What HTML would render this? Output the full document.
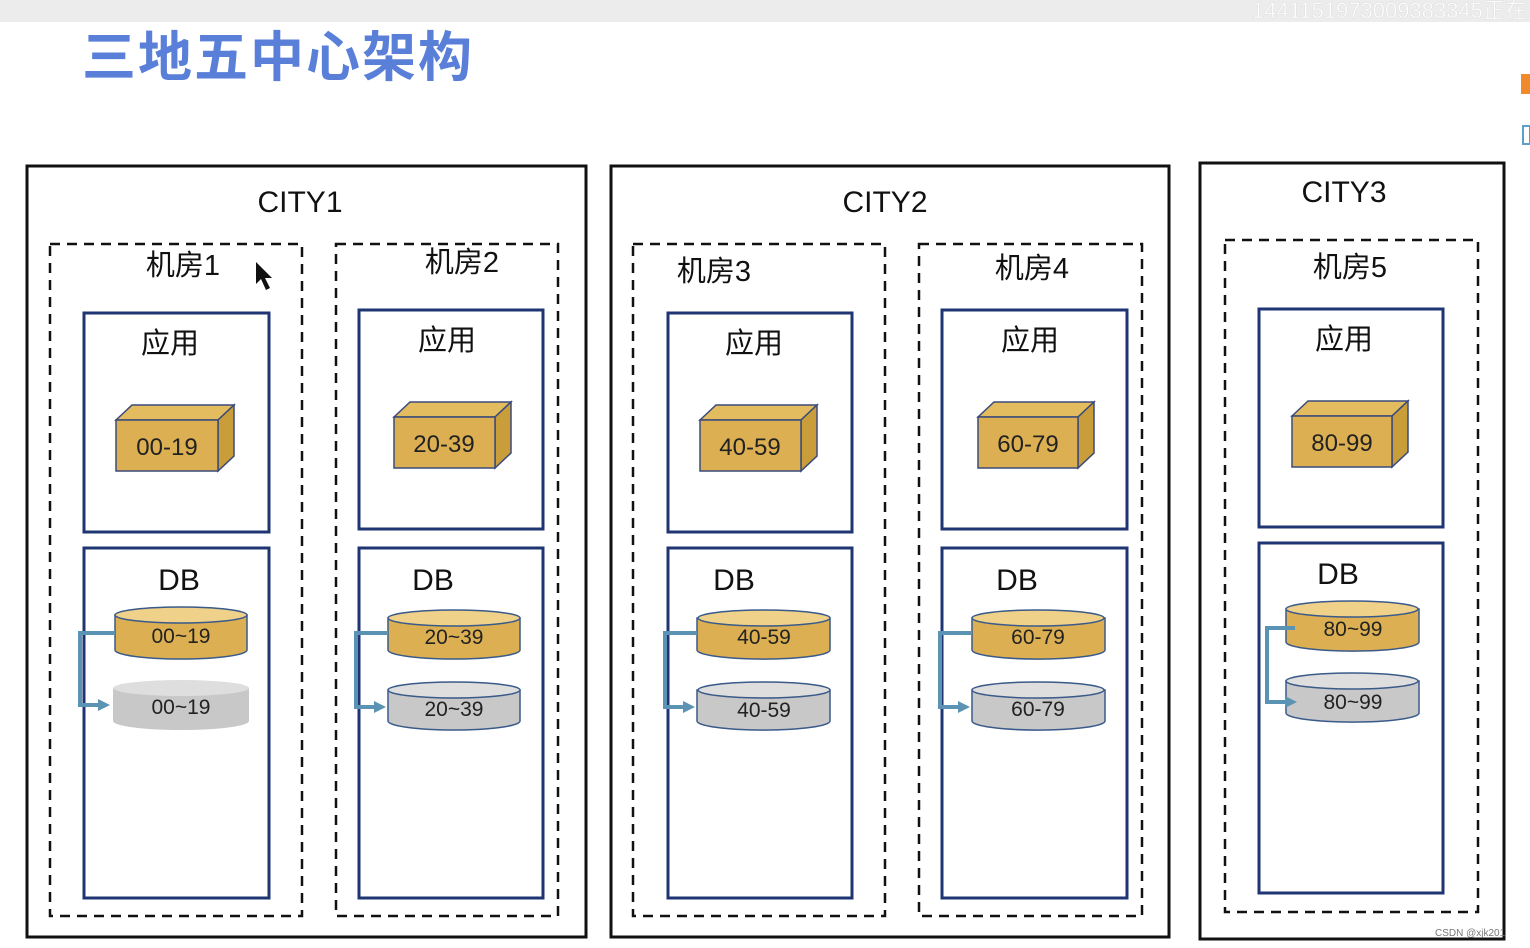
<!DOCTYPE html>
<html><head><meta charset="utf-8"><style>
html,body{margin:0;padding:0;background:#fff;width:1530px;height:948px;overflow:hidden}
svg{display:block}
text{font-family:"Liberation Sans","Noto Sans CJK SC",sans-serif}
</style></head><body>
<svg width="1530" height="948" viewBox="0 0 1530 948" xmlns="http://www.w3.org/2000/svg">
<defs>
<marker id="ah" markerWidth="12" markerHeight="12" refX="6" refY="6" orient="auto" markerUnits="userSpaceOnUse"><path d="M0,0 L12,6 L0,12 Z" fill="#5b93b5"/></marker>
</defs>
<rect x="0" y="0" width="1530" height="22" fill="#ececec"/>
<text x="1252" y="18" font-size="22" fill="#fff" stroke="#ddd" stroke-width="0.5">1441151973009383345正在</text>
<text x="82" y="76" font-size="54" font-weight="bold" fill="#5a7fd8" letter-spacing="2" font-family="'Noto Sans CJK SC',sans-serif">三地五中心架构</text>
<rect x="1521" y="74" width="9" height="20" fill="#f08a2c"/>
<rect x="1523" y="126" width="7" height="18" fill="none" stroke="#5aa0c8" stroke-width="2"/>

<g fill="none" stroke="#111" stroke-width="3">
<rect x="27" y="166" width="559" height="771"/>
<rect x="611" y="166" width="558" height="771"/>
<rect x="1200" y="163" width="304" height="776"/>
</g>
<g font-size="30" fill="#111" text-anchor="middle">
<text x="300" y="212">CITY1</text>
<text x="885" y="212">CITY2</text>
<text x="1344" y="202">CITY3</text>
</g>
<g fill="none" stroke="#111" stroke-width="2.5" stroke-dasharray="10,7">
<rect x="50" y="244" width="252" height="672"/>
<rect x="336" y="244" width="222" height="672"/>
<rect x="633" y="244" width="252" height="672"/>
<rect x="919" y="244" width="223" height="672"/>
<rect x="1225" y="240" width="253" height="672"/>
</g>
<g font-size="29" fill="#111" text-anchor="middle">
<text x="183" y="275">机房1</text>
<text x="462" y="272">机房2</text>
<text x="714" y="281">机房3</text>
<text x="1032" y="278">机房4</text>
<text x="1350" y="277">机房5</text>
</g>
<path d="M256,262 L256,284 L261,279 L266,290 L270,288 L265,278 L272,278 Z" fill="#111"/>

<g transform="translate(84,313)">
<rect x="0" y="0" width="185" height="219" fill="none" stroke="#1f3573" stroke-width="3"/>
<rect x="0" y="235" width="185" height="350" fill="none" stroke="#1f3573" stroke-width="3"/>
<text x="86" y="40" font-size="29" text-anchor="middle" fill="#111">应用</text>
<text x="95" y="277" font-size="30" text-anchor="middle" fill="#111">DB</text>
<polygon points="32,107 48,92 150,92 134,107" fill="#e2bc5e" stroke="#3a4a7a" stroke-width="1.5"/>
<polygon points="134,107 150,92 150,143 134,158" fill="#c99e3a" stroke="#3a4a7a" stroke-width="1.5"/>
<rect x="32" y="107" width="102" height="51" fill="#dcb052" stroke="#3a4a7a" stroke-width="1.5"/>
<text x="83" y="142" font-size="24" text-anchor="middle" fill="#222">00-19</text>
<path d="M31,302 V337 A66,9 0 0 0 163,337 V302 Z" fill="#dcb052" stroke="#3a5a8a" stroke-width="1.5"/>
<ellipse cx="97" cy="302" rx="66" ry="8" fill="#efd18a" stroke="#3a5a8a" stroke-width="1.5"/>
<text x="97" y="330" font-size="21" text-anchor="middle" fill="#222">00~19</text>
<path d="M29,375 V408 A68,9 0 0 0 165,408 V375 Z" fill="#c8c8c8"/>
<ellipse cx="97" cy="375" rx="68" ry="8" fill="#dedede"/>
<text x="97" y="401" font-size="21" text-anchor="middle" fill="#222">00~19</text>
<path d="M31,320 H-4 V392 H20" fill="none" stroke="#5b93b5" stroke-width="4" marker-end="url(#ah)"/>
</g>

<g transform="translate(359,310)">
<rect x="0" y="0" width="184" height="219" fill="none" stroke="#1f3573" stroke-width="3"/>
<rect x="0" y="238" width="184" height="350" fill="none" stroke="#1f3573" stroke-width="3"/>
<text x="88" y="40" font-size="29" text-anchor="middle" fill="#111">应用</text>
<text x="74" y="280" font-size="30" text-anchor="middle" fill="#111">DB</text>
<polygon points="35,107 51,92 152,92 136,107" fill="#e2bc5e" stroke="#3a4a7a" stroke-width="1.5"/>
<polygon points="136,107 152,92 152,143 136,158" fill="#c99e3a" stroke="#3a4a7a" stroke-width="1.5"/>
<rect x="35" y="107" width="101" height="51" fill="#dcb052" stroke="#3a4a7a" stroke-width="1.5"/>
<text x="85" y="142" font-size="24" text-anchor="middle" fill="#222">20-39</text>
<path d="M29,308 V340 A66,9 0 0 0 161,340 V308 Z" fill="#dcb052" stroke="#3a5a8a" stroke-width="1.5"/>
<ellipse cx="95" cy="308" rx="66" ry="8" fill="#efd18a" stroke="#3a5a8a" stroke-width="1.5"/>
<text x="95" y="334" font-size="21" text-anchor="middle" fill="#222">20~39</text>
<path d="M29,380 V411 A66,9 0 0 0 161,411 V380 Z" fill="#c8c8c8" stroke="#3a5a8a" stroke-width="1.5"/>
<ellipse cx="95" cy="380" rx="66" ry="8" fill="#dedede" stroke="#3a5a8a" stroke-width="1.5"/>
<text x="95" y="406" font-size="21" text-anchor="middle" fill="#222">20~39</text>
<path d="M29,323 H-3 V397 H21" fill="none" stroke="#5b93b5" stroke-width="4" marker-end="url(#ah)"/>
</g>

<g transform="translate(668,313)">
<rect x="0" y="0" width="184" height="219" fill="none" stroke="#1f3573" stroke-width="3"/>
<rect x="0" y="235" width="184" height="350" fill="none" stroke="#1f3573" stroke-width="3"/>
<text x="86" y="40" font-size="29" text-anchor="middle" fill="#111">应用</text>
<text x="66" y="277" font-size="30" text-anchor="middle" fill="#111">DB</text>
<polygon points="32,107 48,92 149,92 133,107" fill="#e2bc5e" stroke="#3a4a7a" stroke-width="1.5"/>
<polygon points="133,107 149,92 149,143 133,158" fill="#c99e3a" stroke="#3a4a7a" stroke-width="1.5"/>
<rect x="32" y="107" width="101" height="51" fill="#dcb052" stroke="#3a4a7a" stroke-width="1.5"/>
<text x="82" y="142" font-size="24" text-anchor="middle" fill="#222">40-59</text>
<path d="M29,305 V337 A66,9 0 0 0 162,337 V305 Z" fill="#dcb052" stroke="#3a5a8a" stroke-width="1.5"/>
<ellipse cx="96" cy="305" rx="66" ry="8" fill="#efd18a" stroke="#3a5a8a" stroke-width="1.5"/>
<text x="96" y="331" font-size="21" text-anchor="middle" fill="#222">40-59</text>
<path d="M29,377 V408 A66,9 0 0 0 162,408 V377 Z" fill="#c8c8c8" stroke="#3a5a8a" stroke-width="1.5"/>
<ellipse cx="96" cy="377" rx="66" ry="8" fill="#dedede" stroke="#3a5a8a" stroke-width="1.5"/>
<text x="96" y="404" font-size="21" text-anchor="middle" fill="#222">40-59</text>
<path d="M29,320 H-3 V394 H21" fill="none" stroke="#5b93b5" stroke-width="4" marker-end="url(#ah)"/>
</g>

<g transform="translate(942,310)">
<rect x="0" y="0" width="185" height="219" fill="none" stroke="#1f3573" stroke-width="3"/>
<rect x="0" y="238" width="185" height="350" fill="none" stroke="#1f3573" stroke-width="3"/>
<text x="88" y="40" font-size="29" text-anchor="middle" fill="#111">应用</text>
<text x="75" y="280" font-size="30" text-anchor="middle" fill="#111">DB</text>
<polygon points="36,107 52,92 152,92 136,107" fill="#e2bc5e" stroke="#3a4a7a" stroke-width="1.5"/>
<polygon points="136,107 152,92 152,143 136,158" fill="#c99e3a" stroke="#3a4a7a" stroke-width="1.5"/>
<rect x="36" y="107" width="100" height="51" fill="#dcb052" stroke="#3a4a7a" stroke-width="1.5"/>
<text x="86" y="142" font-size="24" text-anchor="middle" fill="#222">60-79</text>
<path d="M30,308 V340 A66,9 0 0 0 163,340 V308 Z" fill="#dcb052" stroke="#3a5a8a" stroke-width="1.5"/>
<ellipse cx="96" cy="308" rx="66" ry="8" fill="#efd18a" stroke="#3a5a8a" stroke-width="1.5"/>
<text x="96" y="334" font-size="21" text-anchor="middle" fill="#222">60-79</text>
<path d="M30,380 V411 A66,9 0 0 0 163,411 V380 Z" fill="#c8c8c8" stroke="#3a5a8a" stroke-width="1.5"/>
<ellipse cx="96" cy="380" rx="66" ry="8" fill="#dedede" stroke="#3a5a8a" stroke-width="1.5"/>
<text x="96" y="406" font-size="21" text-anchor="middle" fill="#222">60-79</text>
<path d="M30,323 H-2 V397 H22" fill="none" stroke="#5b93b5" stroke-width="4" marker-end="url(#ah)"/>
</g>

<g transform="translate(1259,309)">
<rect x="0" y="0" width="184" height="218" fill="none" stroke="#1f3573" stroke-width="3"/>
<rect x="0" y="234" width="184" height="350" fill="none" stroke="#1f3573" stroke-width="3"/>
<text x="85" y="40" font-size="29" text-anchor="middle" fill="#111">应用</text>
<text x="79" y="275" font-size="30" text-anchor="middle" fill="#111">DB</text>
<polygon points="33,107 49,92 149,92 133,107" fill="#e2bc5e" stroke="#3a4a7a" stroke-width="1.5"/>
<polygon points="133,107 149,92 149,143 133,158" fill="#c99e3a" stroke="#3a4a7a" stroke-width="1.5"/>
<rect x="33" y="107" width="100" height="51" fill="#dcb052" stroke="#3a4a7a" stroke-width="1.5"/>
<text x="83" y="142" font-size="24" text-anchor="middle" fill="#222">80-99</text>
<path d="M27,300 V333 A66,9 0 0 0 160,333 V300 Z" fill="#dcb052" stroke="#3a5a8a" stroke-width="1.5"/>
<ellipse cx="93" cy="300" rx="66" ry="8" fill="#efd18a" stroke="#3a5a8a" stroke-width="1.5"/>
<text x="94" y="327" font-size="21" text-anchor="middle" fill="#222">80~99</text>
<path d="M27,372 V404 A66,9 0 0 0 160,404 V372 Z" fill="#c8c8c8" stroke="#3a5a8a" stroke-width="1.5"/>
<ellipse cx="93" cy="372" rx="66" ry="8" fill="#dedede" stroke="#3a5a8a" stroke-width="1.5"/>
<text x="94" y="400" font-size="21" text-anchor="middle" fill="#222">80~99</text>
<path d="M36,319 H8 V393 H32" fill="none" stroke="#5b93b5" stroke-width="4" marker-end="url(#ah)"/>
</g>

<text x="1435" y="936" font-size="10" fill="#777">CSDN @xjk201</text>
</svg>
</body></html>
